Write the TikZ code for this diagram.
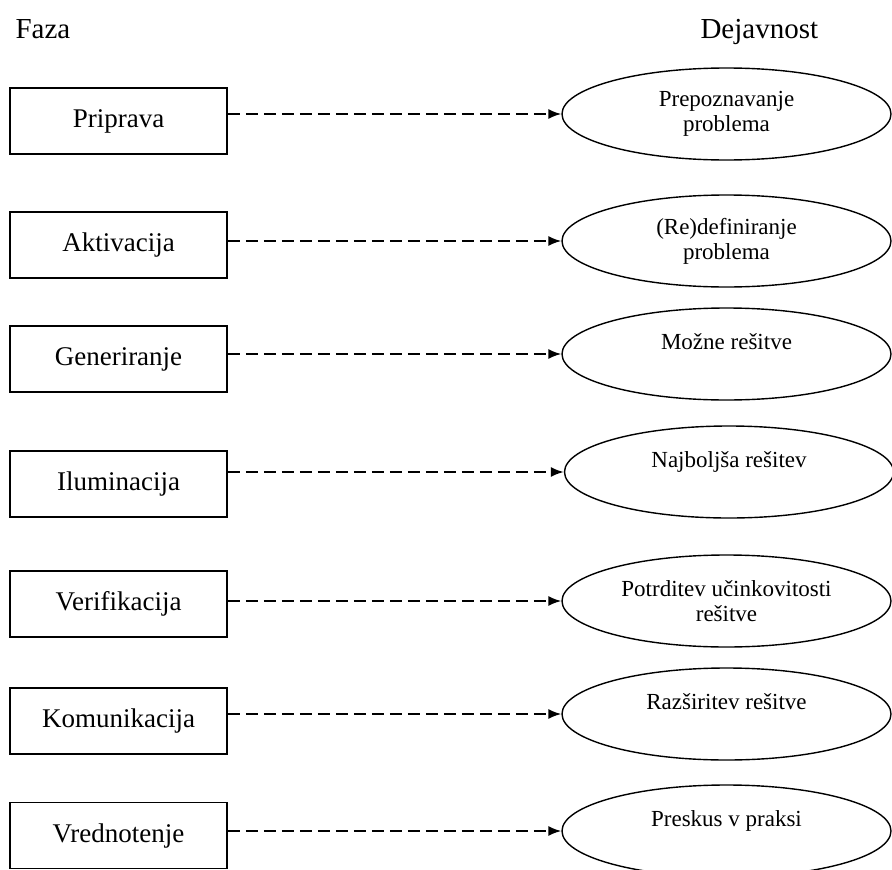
\documentclass[tikz,border=0pt]{standalone}
\usepackage{fontspec}
\setmainfont{Liberation Serif}
\usetikzlibrary{arrows.meta, shapes.geometric}

\begin{document}
\begin{tikzpicture}[x=1pt, y=-1pt,
  faza/.style={draw, line width=1.7pt, minimum width=217pt, minimum height=66pt,
    inner sep=0pt, font=\fontsize{27}{30}\selectfont},
  dejavnost/.style={draw, ellipse, line width=1.4pt, minimum width=329pt, minimum height=92pt,
    inner sep=0pt, align=center, font=\fontsize{23}{25}\selectfont},
  puscica/.style={line width=1.8pt, dash pattern=on 12pt off 6pt,
    -{Latex[length=13pt, width=10pt]}}]
  \useasboundingbox (0, 0) rectangle (892, 870);

  \node[anchor=base west, font=\fontsize{29}{32}\selectfont] (faza) at (12, 38) {Faza};
  \node[anchor=base west, font=\fontsize{29}{32}\selectfont] (dejavnost) at (697, 38) {Dejavnost};

  \node[faza] (priprava) at (118.5, 121) {Priprava};
  \node[faza] (aktivacija) at (118.5, 245) {Aktivacija};
  \node[faza] (generiranje) at (118.5, 359) {Generiranje};
  \node[faza] (iluminacija) at (118.5, 484) {Iluminacija};
  \node[faza] (verifikacija) at (118.5, 604) {Verifikacija};
  \node[faza] (komunikacija) at (118.5, 721) {Komunikacija};
  \node[faza] (vrednotenje) at (118.5, 835.5) {Vrednotenje};

  \node[dejavnost] (prepoznavanje) at (726.5, 114) {Prepoznavanje\\problema};
  \node[dejavnost] (redefiniranje) at (726.5, 241) {(Re)definiranje\\problema};
  \node[dejavnost] (mozne) at (726.5, 354) {Možne rešitve\\~};
  \node[dejavnost] (najboljsa) at (729, 472) {Najboljša rešitev\\~};
  \node[dejavnost] (potrditev) at (726.5, 601) {Potrditev učinkovitosti\\rešitve};
  \node[dejavnost] (razsiritev) at (726.5, 714) {Razširitev rešitve\\~};
  \node[dejavnost] (preskus) at (726.5, 831) {Preskus v praksi\\~};

  \draw[puscica] (priprava.east |- prepoznavanje) -- (prepoznavanje.west);
  \draw[puscica] (aktivacija.east |- redefiniranje) -- (redefiniranje.west);
  \draw[puscica] (generiranje.east |- mozne) -- (mozne.west);
  \draw[puscica] (iluminacija.east |- najboljsa) -- (najboljsa.west);
  \draw[puscica] (verifikacija.east |- potrditev) -- (potrditev.west);
  \draw[puscica] (komunikacija.east |- razsiritev) -- (razsiritev.west);
  \draw[puscica] (vrednotenje.east |- preskus) -- (preskus.west);
\end{tikzpicture}
\end{document}
